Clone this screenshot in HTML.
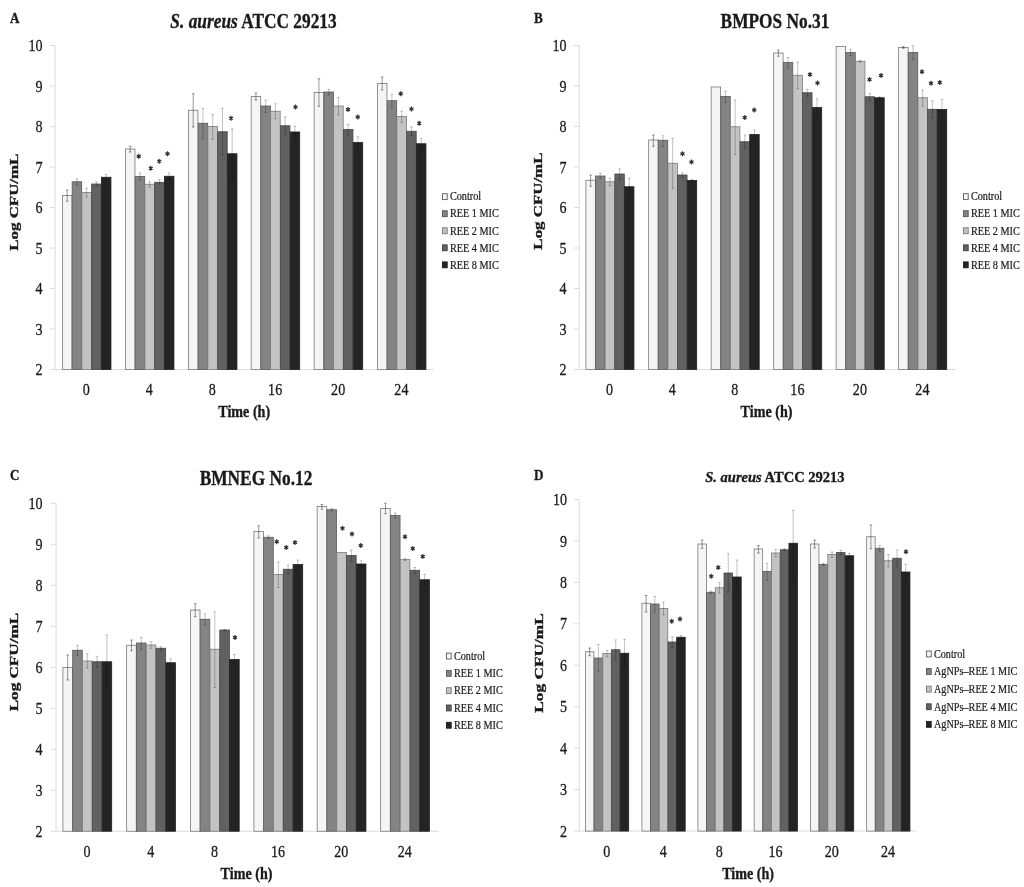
<!DOCTYPE html>
<html>
<head>
<meta charset="utf-8">
<title>Time-kill curves</title>
<style>
html,body{margin:0;padding:0;background:#fff;}
body{width:1024px;height:887px;overflow:hidden;font-family:"Liberation Serif",serif;}
svg{display:block;font-family:"Liberation Serif",serif;filter:blur(0.6px);}
</style>
</head>
<body>
<svg width="1024" height="887" viewBox="0 0 1024 887">
<rect x="0" y="0" width="1024" height="887" fill="#ffffff"/>
<g id="panel-A">
<g stroke="#dcdcdc" stroke-width="1" fill="none">
<path d="M55.2 45.5V369.5H433.5"/>
<path d="M49.8 45.5h5.4M49.8 86h5.4M49.8 126.5h5.4M49.8 167h5.4M49.8 207.5h5.4M49.8 248h5.4M49.8 288.5h5.4M49.8 329h5.4M49.8 369.5h5.4"/>
</g>
<text transform="translate(42.5 51.1) scale(0.8 1)" font-size="17.6" text-anchor="end" fill="#1a1a1a" stroke="#1a1a1a" stroke-width="0.3">10</text>
<text transform="translate(42.5 91.6) scale(0.8 1)" font-size="17.6" text-anchor="end" fill="#1a1a1a" stroke="#1a1a1a" stroke-width="0.3">9</text>
<text transform="translate(42.5 132.1) scale(0.8 1)" font-size="17.6" text-anchor="end" fill="#1a1a1a" stroke="#1a1a1a" stroke-width="0.3">8</text>
<text transform="translate(42.5 172.6) scale(0.8 1)" font-size="17.6" text-anchor="end" fill="#1a1a1a" stroke="#1a1a1a" stroke-width="0.3">7</text>
<text transform="translate(42.5 213.1) scale(0.8 1)" font-size="17.6" text-anchor="end" fill="#1a1a1a" stroke="#1a1a1a" stroke-width="0.3">6</text>
<text transform="translate(42.5 253.6) scale(0.8 1)" font-size="17.6" text-anchor="end" fill="#1a1a1a" stroke="#1a1a1a" stroke-width="0.3">5</text>
<text transform="translate(42.5 294.1) scale(0.8 1)" font-size="17.6" text-anchor="end" fill="#1a1a1a" stroke="#1a1a1a" stroke-width="0.3">4</text>
<text transform="translate(42.5 334.6) scale(0.8 1)" font-size="17.6" text-anchor="end" fill="#1a1a1a" stroke="#1a1a1a" stroke-width="0.3">3</text>
<text transform="translate(42.5 375.1) scale(0.8 1)" font-size="17.6" text-anchor="end" fill="#1a1a1a" stroke="#1a1a1a" stroke-width="0.3">2</text>
<rect x="62.4" y="195.5" width="9.55" height="174" fill="#f5f5f5" stroke="#7a7a7a" stroke-width="0.8"/>
<rect x="72.15" y="181.75" width="9.55" height="187.75" fill="#848484" stroke="#5a5a5a" stroke-width="0.8"/>
<rect x="81.9" y="192.5" width="9.55" height="177" fill="#c3c3c3" stroke="#7c7c7c" stroke-width="0.8"/>
<rect x="91.65" y="184" width="9.55" height="185.5" fill="#616161" stroke="#484848" stroke-width="0.8"/>
<rect x="101.4" y="177.25" width="9.55" height="192.25" fill="#242424" stroke="#202020" stroke-width="0.8"/>
<rect x="125.4" y="149" width="9.55" height="220.5" fill="#f5f5f5" stroke="#7a7a7a" stroke-width="0.8"/>
<rect x="135.15" y="176.5" width="9.55" height="193" fill="#848484" stroke="#5a5a5a" stroke-width="0.8"/>
<rect x="144.9" y="184.25" width="9.55" height="185.25" fill="#c3c3c3" stroke="#7c7c7c" stroke-width="0.8"/>
<rect x="154.65" y="182.3" width="9.55" height="187.2" fill="#616161" stroke="#484848" stroke-width="0.8"/>
<rect x="164.4" y="176.25" width="9.55" height="193.25" fill="#242424" stroke="#202020" stroke-width="0.8"/>
<rect x="188.4" y="110.25" width="9.55" height="259.25" fill="#f5f5f5" stroke="#7a7a7a" stroke-width="0.8"/>
<rect x="198.15" y="123.25" width="9.55" height="246.25" fill="#848484" stroke="#5a5a5a" stroke-width="0.8"/>
<rect x="207.9" y="126.5" width="9.55" height="243" fill="#c3c3c3" stroke="#7c7c7c" stroke-width="0.8"/>
<rect x="217.65" y="131.75" width="9.55" height="237.75" fill="#616161" stroke="#484848" stroke-width="0.8"/>
<rect x="227.4" y="153.75" width="9.55" height="215.75" fill="#242424" stroke="#202020" stroke-width="0.8"/>
<rect x="251.15" y="96.5" width="9.55" height="273" fill="#f5f5f5" stroke="#7a7a7a" stroke-width="0.8"/>
<rect x="260.9" y="106" width="9.55" height="263.5" fill="#848484" stroke="#5a5a5a" stroke-width="0.8"/>
<rect x="270.65" y="111.25" width="9.55" height="258.25" fill="#c3c3c3" stroke="#7c7c7c" stroke-width="0.8"/>
<rect x="280.4" y="125.75" width="9.55" height="243.75" fill="#616161" stroke="#484848" stroke-width="0.8"/>
<rect x="290.15" y="132" width="9.55" height="237.5" fill="#242424" stroke="#202020" stroke-width="0.8"/>
<rect x="314.15" y="92.5" width="9.55" height="277" fill="#f5f5f5" stroke="#7a7a7a" stroke-width="0.8"/>
<rect x="323.9" y="92" width="9.55" height="277.5" fill="#848484" stroke="#5a5a5a" stroke-width="0.8"/>
<rect x="333.65" y="106" width="9.55" height="263.5" fill="#c3c3c3" stroke="#7c7c7c" stroke-width="0.8"/>
<rect x="343.4" y="129.5" width="9.55" height="240" fill="#616161" stroke="#484848" stroke-width="0.8"/>
<rect x="353.15" y="142.5" width="9.55" height="227" fill="#242424" stroke="#202020" stroke-width="0.8"/>
<rect x="377.4" y="83.5" width="9.55" height="286" fill="#f5f5f5" stroke="#7a7a7a" stroke-width="0.8"/>
<rect x="387.15" y="100.75" width="9.55" height="268.75" fill="#848484" stroke="#5a5a5a" stroke-width="0.8"/>
<rect x="396.9" y="116.5" width="9.55" height="253" fill="#c3c3c3" stroke="#7c7c7c" stroke-width="0.8"/>
<rect x="406.65" y="131.25" width="9.55" height="238.25" fill="#616161" stroke="#484848" stroke-width="0.8"/>
<rect x="416.4" y="143.75" width="9.55" height="225.75" fill="#242424" stroke="#202020" stroke-width="0.8"/>
<path d="M67.17 190V201.25M65.88 190h2.6M65.88 201.25h2.6M130.18 146.25V152M128.88 146.25h2.6M128.88 152h2.6M193.18 93.75V127M191.88 93.75h2.6M191.88 127h2.6M255.93 93V100M254.62 93h2.6M254.62 100h2.6M318.93 78.75V106.25M317.62 78.75h2.6M317.62 106.25h2.6M382.18 77V90M380.88 77h2.6M380.88 90h2.6" stroke="#000" stroke-opacity="0.5" stroke-width="0.8" fill="none"/>
<path d="M76.92 178.75V185M75.62 178.75h2.6M75.62 185h2.6M86.67 188.25V197M85.38 188.25h2.6M85.38 197h2.6M96.42 181.75V186.25M95.12 181.75h2.6M95.12 186.25h2.6M106.17 174.5V179.5M104.88 174.5h2.6M104.88 179.5h2.6M139.93 173V180M138.62 173h2.6M138.62 180h2.6M149.68 181.75V187M148.38 181.75h2.6M148.38 187h2.6M159.43 179.5V183.75M158.12 179.5h2.6M158.12 183.75h2.6M169.18 173V179.5M167.88 173h2.6M167.88 179.5h2.6M202.93 108.25V138.75M201.62 108.25h2.6M201.62 138.75h2.6M212.68 114.5V139.25M211.38 114.5h2.6M211.38 139.25h2.6M222.43 108.25V155M221.12 108.25h2.6M221.12 155h2.6M232.18 128.75V179.25M230.88 128.75h2.6M230.88 179.25h2.6M265.68 100V112.5M264.38 100h2.6M264.38 112.5h2.6M275.43 103.75V118.75M274.12 103.75h2.6M274.12 118.75h2.6M285.18 116.75V135M283.88 116.75h2.6M283.88 135h2.6M294.93 126.25V137.5M293.62 126.25h2.6M293.62 137.5h2.6M328.68 89.25V95M327.38 89.25h2.6M327.38 95h2.6M338.43 97.5V115M337.12 97.5h2.6M337.12 115h2.6M348.18 124.5V135M346.88 124.5h2.6M346.88 135h2.6M357.93 136.75V148M356.62 136.75h2.6M356.62 148h2.6M391.93 94.25V108M390.62 94.25h2.6M390.62 108h2.6M401.68 111.25V122.5M400.38 111.25h2.6M400.38 122.5h2.6M411.43 127V135.5M410.12 127h2.6M410.12 135.5h2.6M421.18 138.25V149.5M419.88 138.25h2.6M419.88 149.5h2.6" stroke="#000" stroke-opacity="0.3" stroke-width="0.8" fill="none"/>
<path d="M138.75 153.65v5.2M136.7 154.95l4.1 2.6M136.7 157.55l4.1 -2.6M150.75 165.65v5.2M148.7 166.95l4.1 2.6M148.7 169.55l4.1 -2.6M159.25 158.65v5.2M157.2 159.95l4.1 2.6M157.2 162.55l4.1 -2.6M167.5 151.15v5.2M165.45 152.45l4.1 2.6M165.45 155.05l4.1 -2.6M231 115.65v5.2M228.95 116.95l4.1 2.6M228.95 119.55l4.1 -2.6M295.5 104.4v5.2M293.45 105.7l4.1 2.6M293.45 108.3l4.1 -2.6M348 106.9v5.2M345.95 108.2l4.1 2.6M345.95 110.8l4.1 -2.6M357.75 114.4v5.2M355.7 115.7l4.1 2.6M355.7 118.3l4.1 -2.6M400.75 91.15v5.2M398.7 92.45l4.1 2.6M398.7 95.05l4.1 -2.6M411.5 106.4v5.2M409.45 107.7l4.1 2.6M409.45 110.3l4.1 -2.6M419.25 120.65v5.2M417.2 121.95l4.1 2.6M417.2 124.55l4.1 -2.6" stroke="#333" stroke-width="1.2" fill="none"/>
<circle cx="138.75" cy="156.25" r="1.15" fill="#333"/>
<circle cx="150.75" cy="168.25" r="1.15" fill="#333"/>
<circle cx="159.25" cy="161.25" r="1.15" fill="#333"/>
<circle cx="167.5" cy="153.75" r="1.15" fill="#333"/>
<circle cx="231" cy="118.25" r="1.15" fill="#333"/>
<circle cx="295.5" cy="107" r="1.15" fill="#333"/>
<circle cx="348" cy="109.5" r="1.15" fill="#333"/>
<circle cx="357.75" cy="117" r="1.15" fill="#333"/>
<circle cx="400.75" cy="93.75" r="1.15" fill="#333"/>
<circle cx="411.5" cy="109" r="1.15" fill="#333"/>
<circle cx="419.25" cy="123.25" r="1.15" fill="#333"/>
<text transform="translate(86.38 394.9) scale(0.8 1)" font-size="17.6" text-anchor="middle" fill="#1a1a1a" stroke="#1a1a1a" stroke-width="0.3">0</text>
<text transform="translate(149.38 394.9) scale(0.8 1)" font-size="17.6" text-anchor="middle" fill="#1a1a1a" stroke="#1a1a1a" stroke-width="0.3">4</text>
<text transform="translate(212.38 394.9) scale(0.8 1)" font-size="17.6" text-anchor="middle" fill="#1a1a1a" stroke="#1a1a1a" stroke-width="0.3">8</text>
<text transform="translate(275.12 394.9) scale(0.8 1)" font-size="17.6" text-anchor="middle" fill="#1a1a1a" stroke="#1a1a1a" stroke-width="0.3">16</text>
<text transform="translate(338.12 394.9) scale(0.8 1)" font-size="17.6" text-anchor="middle" fill="#1a1a1a" stroke="#1a1a1a" stroke-width="0.3">20</text>
<text transform="translate(401.38 394.9) scale(0.8 1)" font-size="17.6" text-anchor="middle" fill="#1a1a1a" stroke="#1a1a1a" stroke-width="0.3">24</text>
<text transform="translate(244.2 417.2) scale(0.83 1)" font-size="17" text-anchor="middle" font-weight="bold" stroke="#1a1a1a" stroke-width="0.35" fill="#1a1a1a">Time (h)</text>
<text transform="translate(18 202.2) rotate(-90) scale(1.31 1)" font-size="12.9" text-anchor="middle" font-weight="bold" stroke="#1a1a1a" stroke-width="0.35" fill="#1a1a1a">Log CFU/mL</text>
<text transform="translate(10 23.2) scale(0.84 1)" font-size="15.6" font-weight="bold" stroke="#1a1a1a" stroke-width="0.35" fill="#1a1a1a">A</text>
<text transform="translate(253.5 28) scale(0.81 1)" font-size="21.4" text-anchor="middle" font-weight="bold" stroke="#1a1a1a" stroke-width="0.35" fill="#1a1a1a" xml:space="preserve"><tspan font-style="italic">S. aureus</tspan> ATCC 29213</text>
<rect x="442.5" y="193.7" width="4.7" height="5.9" fill="#f5f5f5" stroke="#5a5a5a" stroke-width="0.9"/>
<text transform="translate(449.9 200.4) scale(0.89 1)" font-size="11.5" fill="#1a1a1a" stroke="#1a1a1a" stroke-width="0.2">Control</text>
<rect x="442.5" y="210.75" width="4.7" height="5.9" fill="#848484" stroke="#555" stroke-width="0.9"/>
<text transform="translate(449.9 217.45) scale(0.89 1)" font-size="11.5" fill="#1a1a1a" stroke="#1a1a1a" stroke-width="0.2">REE 1 MIC</text>
<rect x="442.5" y="227.8" width="4.7" height="5.9" fill="#c3c3c3" stroke="#777" stroke-width="0.9"/>
<text transform="translate(449.9 234.5) scale(0.89 1)" font-size="11.5" fill="#1a1a1a" stroke="#1a1a1a" stroke-width="0.2">REE 2 MIC</text>
<rect x="442.5" y="244.85" width="4.7" height="5.9" fill="#616161" stroke="#444" stroke-width="0.9"/>
<text transform="translate(449.9 251.55) scale(0.89 1)" font-size="11.5" fill="#1a1a1a" stroke="#1a1a1a" stroke-width="0.2">REE 4 MIC</text>
<rect x="442.5" y="261.9" width="4.7" height="5.9" fill="#242424" stroke="#1c1c1c" stroke-width="0.9"/>
<text transform="translate(449.9 268.6) scale(0.89 1)" font-size="11.5" fill="#1a1a1a" stroke="#1a1a1a" stroke-width="0.2">REE 8 MIC</text>
</g>
<g id="panel-B">
<g stroke="#dcdcdc" stroke-width="1" fill="none">
<path d="M579.2 45.5V369.5H955.5"/>
<path d="M573.8 45.5h5.4M573.8 86h5.4M573.8 126.5h5.4M573.8 167h5.4M573.8 207.5h5.4M573.8 248h5.4M573.8 288.5h5.4M573.8 329h5.4M573.8 369.5h5.4"/>
</g>
<text transform="translate(566.6 51.1) scale(0.8 1)" font-size="17.6" text-anchor="end" fill="#1a1a1a" stroke="#1a1a1a" stroke-width="0.3">10</text>
<text transform="translate(566.6 91.6) scale(0.8 1)" font-size="17.6" text-anchor="end" fill="#1a1a1a" stroke="#1a1a1a" stroke-width="0.3">9</text>
<text transform="translate(566.6 132.1) scale(0.8 1)" font-size="17.6" text-anchor="end" fill="#1a1a1a" stroke="#1a1a1a" stroke-width="0.3">8</text>
<text transform="translate(566.6 172.6) scale(0.8 1)" font-size="17.6" text-anchor="end" fill="#1a1a1a" stroke="#1a1a1a" stroke-width="0.3">7</text>
<text transform="translate(566.6 213.1) scale(0.8 1)" font-size="17.6" text-anchor="end" fill="#1a1a1a" stroke="#1a1a1a" stroke-width="0.3">6</text>
<text transform="translate(566.6 253.6) scale(0.8 1)" font-size="17.6" text-anchor="end" fill="#1a1a1a" stroke="#1a1a1a" stroke-width="0.3">5</text>
<text transform="translate(566.6 294.1) scale(0.8 1)" font-size="17.6" text-anchor="end" fill="#1a1a1a" stroke="#1a1a1a" stroke-width="0.3">4</text>
<text transform="translate(566.6 334.6) scale(0.8 1)" font-size="17.6" text-anchor="end" fill="#1a1a1a" stroke="#1a1a1a" stroke-width="0.3">3</text>
<text transform="translate(566.6 375.1) scale(0.8 1)" font-size="17.6" text-anchor="end" fill="#1a1a1a" stroke="#1a1a1a" stroke-width="0.3">2</text>
<rect x="585.9" y="180.25" width="9.45" height="189.25" fill="#f5f5f5" stroke="#7a7a7a" stroke-width="0.8"/>
<rect x="595.55" y="176" width="9.45" height="193.5" fill="#848484" stroke="#5a5a5a" stroke-width="0.8"/>
<rect x="605.2" y="181.75" width="9.45" height="187.75" fill="#c3c3c3" stroke="#7c7c7c" stroke-width="0.8"/>
<rect x="614.85" y="174" width="9.45" height="195.5" fill="#616161" stroke="#484848" stroke-width="0.8"/>
<rect x="624.5" y="186.75" width="9.45" height="182.75" fill="#242424" stroke="#202020" stroke-width="0.8"/>
<rect x="648.65" y="140" width="9.45" height="229.5" fill="#f5f5f5" stroke="#7a7a7a" stroke-width="0.8"/>
<rect x="658.3" y="140.25" width="9.45" height="229.25" fill="#848484" stroke="#5a5a5a" stroke-width="0.8"/>
<rect x="667.95" y="163.25" width="9.45" height="206.25" fill="#c3c3c3" stroke="#7c7c7c" stroke-width="0.8"/>
<rect x="677.6" y="175" width="9.45" height="194.5" fill="#616161" stroke="#484848" stroke-width="0.8"/>
<rect x="687.25" y="180.5" width="9.45" height="189" fill="#242424" stroke="#202020" stroke-width="0.8"/>
<rect x="711.15" y="87" width="9.45" height="282.5" fill="#f5f5f5" stroke="#7a7a7a" stroke-width="0.8"/>
<rect x="720.8" y="96.5" width="9.45" height="273" fill="#848484" stroke="#5a5a5a" stroke-width="0.8"/>
<rect x="730.45" y="126.75" width="9.45" height="242.75" fill="#c3c3c3" stroke="#7c7c7c" stroke-width="0.8"/>
<rect x="740.1" y="141.75" width="9.45" height="227.75" fill="#616161" stroke="#484848" stroke-width="0.8"/>
<rect x="749.75" y="134.5" width="9.45" height="235" fill="#242424" stroke="#202020" stroke-width="0.8"/>
<rect x="773.65" y="53" width="9.45" height="316.5" fill="#f5f5f5" stroke="#7a7a7a" stroke-width="0.8"/>
<rect x="783.3" y="62.5" width="9.45" height="307" fill="#848484" stroke="#5a5a5a" stroke-width="0.8"/>
<rect x="792.95" y="75.25" width="9.45" height="294.25" fill="#c3c3c3" stroke="#7c7c7c" stroke-width="0.8"/>
<rect x="802.6" y="92.75" width="9.45" height="276.75" fill="#616161" stroke="#484848" stroke-width="0.8"/>
<rect x="812.25" y="107.5" width="9.45" height="262" fill="#242424" stroke="#202020" stroke-width="0.8"/>
<rect x="836.15" y="46.5" width="9.45" height="323" fill="#f5f5f5" stroke="#7a7a7a" stroke-width="0.8"/>
<rect x="845.8" y="52.5" width="9.45" height="317" fill="#848484" stroke="#5a5a5a" stroke-width="0.8"/>
<rect x="855.45" y="61.25" width="9.45" height="308.25" fill="#c3c3c3" stroke="#7c7c7c" stroke-width="0.8"/>
<rect x="865.1" y="96.75" width="9.45" height="272.75" fill="#616161" stroke="#484848" stroke-width="0.8"/>
<rect x="874.75" y="97.75" width="9.45" height="271.75" fill="#242424" stroke="#202020" stroke-width="0.8"/>
<rect x="898.65" y="47.5" width="9.45" height="322" fill="#f5f5f5" stroke="#7a7a7a" stroke-width="0.8"/>
<rect x="908.3" y="52.5" width="9.45" height="317" fill="#848484" stroke="#5a5a5a" stroke-width="0.8"/>
<rect x="917.95" y="97.75" width="9.45" height="271.75" fill="#c3c3c3" stroke="#7c7c7c" stroke-width="0.8"/>
<rect x="927.6" y="109.25" width="9.45" height="260.25" fill="#616161" stroke="#484848" stroke-width="0.8"/>
<rect x="937.25" y="109.5" width="9.45" height="260" fill="#242424" stroke="#202020" stroke-width="0.8"/>
<path d="M590.62 175V186.25M589.33 175h2.6M589.33 186.25h2.6M653.38 135V146.25M652.08 135h2.6M652.08 146.25h2.6M778.38 50V56.25M777.08 50h2.6M777.08 56.25h2.6M903.38 46.75V48.25M902.08 46.75h2.6M902.08 48.25h2.6" stroke="#000" stroke-opacity="0.5" stroke-width="0.8" fill="none"/>
<path d="M600.27 173.25V178.75M598.98 173.25h2.6M598.98 178.75h2.6M609.92 178.25V185.5M608.62 178.25h2.6M608.62 185.5h2.6M619.58 168.75V179.5M618.28 168.75h2.6M618.28 179.5h2.6M629.23 178.25V195M627.93 178.25h2.6M627.93 195h2.6M663.02 135.75V146.25M661.73 135.75h2.6M661.73 146.25h2.6M672.67 138.25V188.75M671.38 138.25h2.6M671.38 188.75h2.6M682.33 172.75V177.5M681.03 172.75h2.6M681.03 177.5h2.6M691.98 179.5V181.5M690.68 179.5h2.6M690.68 181.5h2.6M725.52 91.25V102.5M724.23 91.25h2.6M724.23 102.5h2.6M735.17 100V154.5M733.88 100h2.6M733.88 154.5h2.6M744.83 135V148.75M743.53 135h2.6M743.53 148.75h2.6M754.48 130V139.25M753.18 130h2.6M753.18 139.25h2.6M788.02 57.5V68M786.73 57.5h2.6M786.73 68h2.6M797.67 62V88.75M796.38 62h2.6M796.38 88.75h2.6M807.33 89.25V96.25M806.03 89.25h2.6M806.03 96.25h2.6M816.98 98.75V116.25M815.68 98.75h2.6M815.68 116.25h2.6M850.52 49.25V55.75M849.23 49.25h2.6M849.23 55.75h2.6M860.17 60.25V62.25M858.88 60.25h2.6M858.88 62.25h2.6M869.83 93.25V100.75M868.53 93.25h2.6M868.53 100.75h2.6M879.48 96.75V98.75M878.18 96.75h2.6M878.18 98.75h2.6M913.02 45.75V59.5M911.73 45.75h2.6M911.73 59.5h2.6M922.67 90V106.25M921.38 90h2.6M921.38 106.25h2.6M932.33 100.75V118M931.03 100.75h2.6M931.03 118h2.6M941.98 99.5V119.5M940.68 99.5h2.6M940.68 119.5h2.6" stroke="#000" stroke-opacity="0.3" stroke-width="0.8" fill="none"/>
<path d="M682.5 151.15v5.2M680.45 152.45l4.1 2.6M680.45 155.05l4.1 -2.6M691.5 159.4v5.2M689.45 160.7l4.1 2.6M689.45 163.3l4.1 -2.6M744.75 114.9v5.2M742.7 116.2l4.1 2.6M742.7 118.8l4.1 -2.6M754.25 107.4v5.2M752.2 108.7l4.1 2.6M752.2 111.3l4.1 -2.6M810 71.9v5.2M807.95 73.2l4.1 2.6M807.95 75.8l4.1 -2.6M817.5 80.4v5.2M815.45 81.7l4.1 2.6M815.45 84.3l4.1 -2.6M869.5 76.9v5.2M867.45 78.2l4.1 2.6M867.45 80.8l4.1 -2.6M881 72.9v5.2M878.95 74.2l4.1 2.6M878.95 76.8l4.1 -2.6M922 69.15v5.2M919.95 70.45l4.1 2.6M919.95 73.05l4.1 -2.6M931 80.65v5.2M928.95 81.95l4.1 2.6M928.95 84.55l4.1 -2.6M939.75 79.9v5.2M937.7 81.2l4.1 2.6M937.7 83.8l4.1 -2.6" stroke="#333" stroke-width="1.2" fill="none"/>
<circle cx="682.5" cy="153.75" r="1.15" fill="#333"/>
<circle cx="691.5" cy="162" r="1.15" fill="#333"/>
<circle cx="744.75" cy="117.5" r="1.15" fill="#333"/>
<circle cx="754.25" cy="110" r="1.15" fill="#333"/>
<circle cx="810" cy="74.5" r="1.15" fill="#333"/>
<circle cx="817.5" cy="83" r="1.15" fill="#333"/>
<circle cx="869.5" cy="79.5" r="1.15" fill="#333"/>
<circle cx="881" cy="75.5" r="1.15" fill="#333"/>
<circle cx="922" cy="71.75" r="1.15" fill="#333"/>
<circle cx="931" cy="83.25" r="1.15" fill="#333"/>
<circle cx="939.75" cy="82.5" r="1.15" fill="#333"/>
<text transform="translate(609.62 394.9) scale(0.8 1)" font-size="17.6" text-anchor="middle" fill="#1a1a1a" stroke="#1a1a1a" stroke-width="0.3">0</text>
<text transform="translate(672.38 394.9) scale(0.8 1)" font-size="17.6" text-anchor="middle" fill="#1a1a1a" stroke="#1a1a1a" stroke-width="0.3">4</text>
<text transform="translate(734.88 394.9) scale(0.8 1)" font-size="17.6" text-anchor="middle" fill="#1a1a1a" stroke="#1a1a1a" stroke-width="0.3">8</text>
<text transform="translate(797.38 394.9) scale(0.8 1)" font-size="17.6" text-anchor="middle" fill="#1a1a1a" stroke="#1a1a1a" stroke-width="0.3">16</text>
<text transform="translate(859.88 394.9) scale(0.8 1)" font-size="17.6" text-anchor="middle" fill="#1a1a1a" stroke="#1a1a1a" stroke-width="0.3">20</text>
<text transform="translate(922.38 394.9) scale(0.8 1)" font-size="17.6" text-anchor="middle" fill="#1a1a1a" stroke="#1a1a1a" stroke-width="0.3">24</text>
<text transform="translate(766.5 417) scale(0.83 1)" font-size="17" text-anchor="middle" font-weight="bold" stroke="#1a1a1a" stroke-width="0.35" fill="#1a1a1a">Time (h)</text>
<text transform="translate(541.5 201.1) rotate(-90) scale(1.31 1)" font-size="12.9" text-anchor="middle" font-weight="bold" stroke="#1a1a1a" stroke-width="0.35" fill="#1a1a1a">Log CFU/mL</text>
<text transform="translate(534 22.9) scale(0.84 1)" font-size="15.6" font-weight="bold" stroke="#1a1a1a" stroke-width="0.35" fill="#1a1a1a">B</text>
<text transform="translate(775 28) scale(0.81 1)" font-size="21.4" text-anchor="middle" font-weight="bold" stroke="#1a1a1a" stroke-width="0.35" fill="#1a1a1a" xml:space="preserve">BMPOS No.31</text>
<rect x="963.5" y="193.7" width="4.7" height="5.9" fill="#f5f5f5" stroke="#5a5a5a" stroke-width="0.9"/>
<text transform="translate(970.9 200.4) scale(0.89 1)" font-size="11.5" fill="#1a1a1a" stroke="#1a1a1a" stroke-width="0.2">Control</text>
<rect x="963.5" y="210.75" width="4.7" height="5.9" fill="#848484" stroke="#555" stroke-width="0.9"/>
<text transform="translate(970.9 217.45) scale(0.89 1)" font-size="11.5" fill="#1a1a1a" stroke="#1a1a1a" stroke-width="0.2">REE 1 MIC</text>
<rect x="963.5" y="227.8" width="4.7" height="5.9" fill="#c3c3c3" stroke="#777" stroke-width="0.9"/>
<text transform="translate(970.9 234.5) scale(0.89 1)" font-size="11.5" fill="#1a1a1a" stroke="#1a1a1a" stroke-width="0.2">REE 2 MIC</text>
<rect x="963.5" y="244.85" width="4.7" height="5.9" fill="#616161" stroke="#444" stroke-width="0.9"/>
<text transform="translate(970.9 251.55) scale(0.89 1)" font-size="11.5" fill="#1a1a1a" stroke="#1a1a1a" stroke-width="0.2">REE 4 MIC</text>
<rect x="963.5" y="261.9" width="4.7" height="5.9" fill="#242424" stroke="#1c1c1c" stroke-width="0.9"/>
<text transform="translate(970.9 268.6) scale(0.89 1)" font-size="11.5" fill="#1a1a1a" stroke="#1a1a1a" stroke-width="0.2">REE 8 MIC</text>
</g>
<g id="panel-C">
<g stroke="#dcdcdc" stroke-width="1" fill="none">
<path d="M56.1 503.25V831.25H438.75"/>
<path d="M50.7 503.25h5.4M50.7 544.25h5.4M50.7 585.25h5.4M50.7 626.25h5.4M50.7 667.25h5.4M50.7 708.25h5.4M50.7 749.25h5.4M50.7 790.25h5.4M50.7 831.25h5.4"/>
</g>
<text transform="translate(42.65 508.85) scale(0.8 1)" font-size="17.6" text-anchor="end" fill="#1a1a1a" stroke="#1a1a1a" stroke-width="0.3">10</text>
<text transform="translate(42.65 549.85) scale(0.8 1)" font-size="17.6" text-anchor="end" fill="#1a1a1a" stroke="#1a1a1a" stroke-width="0.3">9</text>
<text transform="translate(42.65 590.85) scale(0.8 1)" font-size="17.6" text-anchor="end" fill="#1a1a1a" stroke="#1a1a1a" stroke-width="0.3">8</text>
<text transform="translate(42.65 631.85) scale(0.8 1)" font-size="17.6" text-anchor="end" fill="#1a1a1a" stroke="#1a1a1a" stroke-width="0.3">7</text>
<text transform="translate(42.65 672.85) scale(0.8 1)" font-size="17.6" text-anchor="end" fill="#1a1a1a" stroke="#1a1a1a" stroke-width="0.3">6</text>
<text transform="translate(42.65 713.85) scale(0.8 1)" font-size="17.6" text-anchor="end" fill="#1a1a1a" stroke="#1a1a1a" stroke-width="0.3">5</text>
<text transform="translate(42.65 754.85) scale(0.8 1)" font-size="17.6" text-anchor="end" fill="#1a1a1a" stroke="#1a1a1a" stroke-width="0.3">4</text>
<text transform="translate(42.65 795.85) scale(0.8 1)" font-size="17.6" text-anchor="end" fill="#1a1a1a" stroke="#1a1a1a" stroke-width="0.3">3</text>
<text transform="translate(42.65 836.85) scale(0.8 1)" font-size="17.6" text-anchor="end" fill="#1a1a1a" stroke="#1a1a1a" stroke-width="0.3">2</text>
<rect x="62.9" y="667.5" width="9.6" height="163.75" fill="#f5f5f5" stroke="#7a7a7a" stroke-width="0.8"/>
<rect x="72.7" y="650.25" width="9.6" height="181" fill="#848484" stroke="#5a5a5a" stroke-width="0.8"/>
<rect x="82.5" y="661" width="9.6" height="170.25" fill="#c3c3c3" stroke="#7c7c7c" stroke-width="0.8"/>
<rect x="92.3" y="661.75" width="9.6" height="169.5" fill="#616161" stroke="#484848" stroke-width="0.8"/>
<rect x="102.1" y="661.75" width="9.6" height="169.5" fill="#242424" stroke="#202020" stroke-width="0.8"/>
<rect x="126.65" y="645.25" width="9.6" height="186" fill="#f5f5f5" stroke="#7a7a7a" stroke-width="0.8"/>
<rect x="136.45" y="643" width="9.6" height="188.25" fill="#848484" stroke="#5a5a5a" stroke-width="0.8"/>
<rect x="146.25" y="645" width="9.6" height="186.25" fill="#c3c3c3" stroke="#7c7c7c" stroke-width="0.8"/>
<rect x="156.05" y="648.25" width="9.6" height="183" fill="#616161" stroke="#484848" stroke-width="0.8"/>
<rect x="165.85" y="662.75" width="9.6" height="168.5" fill="#242424" stroke="#202020" stroke-width="0.8"/>
<rect x="190.4" y="610" width="9.6" height="221.25" fill="#f5f5f5" stroke="#7a7a7a" stroke-width="0.8"/>
<rect x="200.2" y="619.25" width="9.6" height="212" fill="#848484" stroke="#5a5a5a" stroke-width="0.8"/>
<rect x="210" y="649.25" width="9.6" height="182" fill="#c3c3c3" stroke="#7c7c7c" stroke-width="0.8"/>
<rect x="219.8" y="630" width="9.6" height="201.25" fill="#616161" stroke="#484848" stroke-width="0.8"/>
<rect x="229.6" y="659.5" width="9.6" height="171.75" fill="#242424" stroke="#202020" stroke-width="0.8"/>
<rect x="253.9" y="531.5" width="9.6" height="299.75" fill="#f5f5f5" stroke="#7a7a7a" stroke-width="0.8"/>
<rect x="263.7" y="537.25" width="9.6" height="294" fill="#848484" stroke="#5a5a5a" stroke-width="0.8"/>
<rect x="273.5" y="574.5" width="9.6" height="256.75" fill="#c3c3c3" stroke="#7c7c7c" stroke-width="0.8"/>
<rect x="283.3" y="569.25" width="9.6" height="262" fill="#616161" stroke="#484848" stroke-width="0.8"/>
<rect x="293.1" y="564.5" width="9.6" height="266.75" fill="#242424" stroke="#202020" stroke-width="0.8"/>
<rect x="317.15" y="506.5" width="9.6" height="324.75" fill="#f5f5f5" stroke="#7a7a7a" stroke-width="0.8"/>
<rect x="326.95" y="509.75" width="9.6" height="321.5" fill="#848484" stroke="#5a5a5a" stroke-width="0.8"/>
<rect x="336.75" y="552.5" width="9.6" height="278.75" fill="#c3c3c3" stroke="#7c7c7c" stroke-width="0.8"/>
<rect x="346.55" y="555.5" width="9.6" height="275.75" fill="#616161" stroke="#484848" stroke-width="0.8"/>
<rect x="356.35" y="564" width="9.6" height="267.25" fill="#242424" stroke="#202020" stroke-width="0.8"/>
<rect x="380.65" y="508.5" width="9.6" height="322.75" fill="#f5f5f5" stroke="#7a7a7a" stroke-width="0.8"/>
<rect x="390.45" y="515.5" width="9.6" height="315.75" fill="#848484" stroke="#5a5a5a" stroke-width="0.8"/>
<rect x="400.25" y="559.5" width="9.6" height="271.75" fill="#c3c3c3" stroke="#7c7c7c" stroke-width="0.8"/>
<rect x="410.05" y="570.25" width="9.6" height="261" fill="#616161" stroke="#484848" stroke-width="0.8"/>
<rect x="419.85" y="579.75" width="9.6" height="251.5" fill="#242424" stroke="#202020" stroke-width="0.8"/>
<path d="M67.7 655V680M66.4 655h2.6M66.4 680h2.6M131.45 640V650.75M130.15 640h2.6M130.15 650.75h2.6M195.2 603.75V616.75M193.9 603.75h2.6M193.9 616.75h2.6M258.7 525.75V538M257.4 525.75h2.6M257.4 538h2.6M321.95 504.5V509.25M320.65 504.5h2.6M320.65 509.25h2.6M385.45 503.25V513.75M384.15 503.25h2.6M384.15 513.75h2.6" stroke="#000" stroke-opacity="0.5" stroke-width="0.8" fill="none"/>
<path d="M77.5 645.5V655.5M76.2 645.5h2.6M76.2 655.5h2.6M87.3 653.75V668M86 653.75h2.6M86 668h2.6M97.1 656.25V667.5M95.8 656.25h2.6M95.8 667.5h2.6M106.9 635V688.75M105.6 635h2.6M105.6 688.75h2.6M141.25 637.5V649.25M139.95 637.5h2.6M139.95 649.25h2.6M151.05 641.75V648.25M149.75 641.75h2.6M149.75 648.25h2.6M160.85 646.75V650M159.55 646.75h2.6M159.55 650h2.6M170.65 658.75V666.75M169.35 658.75h2.6M169.35 666.75h2.6M205 613.75V625M203.7 613.75h2.6M203.7 625h2.6M214.8 611.75V687.5M213.5 611.75h2.6M213.5 687.5h2.6M224.6 629.25V630.75M223.3 629.25h2.6M223.3 630.75h2.6M234.4 654.5V664.5M233.1 654.5h2.6M233.1 664.5h2.6M268.5 535.75V538.75M267.2 535.75h2.6M267.2 538.75h2.6M278.3 562V587.5M277 562h2.6M277 587.5h2.6M288.1 565V573.75M286.8 565h2.6M286.8 573.75h2.6M297.9 560V568.75M296.6 560h2.6M296.6 568.75h2.6M331.75 508.5V511M330.45 508.5h2.6M330.45 511h2.6M351.35 550V561.25M350.05 550h2.6M350.05 561.25h2.6M361.15 560.75V567M359.85 560.75h2.6M359.85 567h2.6M395.25 513V518.25M393.95 513h2.6M393.95 518.25h2.6M405.05 558.5V560.5M403.75 558.5h2.6M403.75 560.5h2.6M414.85 567.5V573.25M413.55 567.5h2.6M413.55 573.25h2.6M424.65 574.25V585.5M423.35 574.25h2.6M423.35 585.5h2.6" stroke="#000" stroke-opacity="0.3" stroke-width="0.8" fill="none"/>
<path d="M235 634.9v5.2M232.95 636.2l4.1 2.6M232.95 638.8l4.1 -2.6M276.75 539.15v5.2M274.7 540.45l4.1 2.6M274.7 543.05l4.1 -2.6M286.25 544.9v5.2M284.2 546.2l4.1 2.6M284.2 548.8l4.1 -2.6M295 539.9v5.2M292.95 541.2l4.1 2.6M292.95 543.8l4.1 -2.6M342.5 525.65v5.2M340.45 526.95l4.1 2.6M340.45 529.55l4.1 -2.6M352 531.4v5.2M349.95 532.7l4.1 2.6M349.95 535.3l4.1 -2.6M360.75 542.9v5.2M358.7 544.2l4.1 2.6M358.7 546.8l4.1 -2.6M405 534.15v5.2M402.95 535.45l4.1 2.6M402.95 538.05l4.1 -2.6M412.75 545.9v5.2M410.7 547.2l4.1 2.6M410.7 549.8l4.1 -2.6M422.75 553.9v5.2M420.7 555.2l4.1 2.6M420.7 557.8l4.1 -2.6" stroke="#333" stroke-width="1.2" fill="none"/>
<circle cx="235" cy="637.5" r="1.15" fill="#333"/>
<circle cx="276.75" cy="541.75" r="1.15" fill="#333"/>
<circle cx="286.25" cy="547.5" r="1.15" fill="#333"/>
<circle cx="295" cy="542.5" r="1.15" fill="#333"/>
<circle cx="342.5" cy="528.25" r="1.15" fill="#333"/>
<circle cx="352" cy="534" r="1.15" fill="#333"/>
<circle cx="360.75" cy="545.5" r="1.15" fill="#333"/>
<circle cx="405" cy="536.75" r="1.15" fill="#333"/>
<circle cx="412.75" cy="548.5" r="1.15" fill="#333"/>
<circle cx="422.75" cy="556.5" r="1.15" fill="#333"/>
<text transform="translate(87 856.8) scale(0.8 1)" font-size="17.6" text-anchor="middle" fill="#1a1a1a" stroke="#1a1a1a" stroke-width="0.3">0</text>
<text transform="translate(150.75 856.8) scale(0.8 1)" font-size="17.6" text-anchor="middle" fill="#1a1a1a" stroke="#1a1a1a" stroke-width="0.3">4</text>
<text transform="translate(214.5 856.8) scale(0.8 1)" font-size="17.6" text-anchor="middle" fill="#1a1a1a" stroke="#1a1a1a" stroke-width="0.3">8</text>
<text transform="translate(278 856.8) scale(0.8 1)" font-size="17.6" text-anchor="middle" fill="#1a1a1a" stroke="#1a1a1a" stroke-width="0.3">16</text>
<text transform="translate(341.25 856.8) scale(0.8 1)" font-size="17.6" text-anchor="middle" fill="#1a1a1a" stroke="#1a1a1a" stroke-width="0.3">20</text>
<text transform="translate(404.75 856.8) scale(0.8 1)" font-size="17.6" text-anchor="middle" fill="#1a1a1a" stroke="#1a1a1a" stroke-width="0.3">24</text>
<text transform="translate(246.5 879.3) scale(0.83 1)" font-size="17" text-anchor="middle" font-weight="bold" stroke="#1a1a1a" stroke-width="0.35" fill="#1a1a1a">Time (h)</text>
<text transform="translate(18.3 662.1) rotate(-90) scale(1.33 1)" font-size="12.9" text-anchor="middle" font-weight="bold" stroke="#1a1a1a" stroke-width="0.35" fill="#1a1a1a">Log CFU/mL</text>
<text transform="translate(10 480.2) scale(0.84 1)" font-size="15.6" font-weight="bold" stroke="#1a1a1a" stroke-width="0.35" fill="#1a1a1a">C</text>
<text transform="translate(256 485) scale(0.81 1)" font-size="21.4" text-anchor="middle" font-weight="bold" stroke="#1a1a1a" stroke-width="0.35" fill="#1a1a1a" xml:space="preserve">BMNEG No.12</text>
<rect x="446.5" y="653.1" width="4.7" height="5.9" fill="#f5f5f5" stroke="#5a5a5a" stroke-width="0.9"/>
<text transform="translate(453.9 659.8) scale(0.89 1)" font-size="11.5" fill="#1a1a1a" stroke="#1a1a1a" stroke-width="0.2">Control</text>
<rect x="446.5" y="670.4" width="4.7" height="5.9" fill="#848484" stroke="#555" stroke-width="0.9"/>
<text transform="translate(453.9 677.1) scale(0.89 1)" font-size="11.5" fill="#1a1a1a" stroke="#1a1a1a" stroke-width="0.2">REE 1 MIC</text>
<rect x="446.5" y="687.7" width="4.7" height="5.9" fill="#c3c3c3" stroke="#777" stroke-width="0.9"/>
<text transform="translate(453.9 694.4) scale(0.89 1)" font-size="11.5" fill="#1a1a1a" stroke="#1a1a1a" stroke-width="0.2">REE 2 MIC</text>
<rect x="446.5" y="705" width="4.7" height="5.9" fill="#616161" stroke="#444" stroke-width="0.9"/>
<text transform="translate(453.9 711.7) scale(0.89 1)" font-size="11.5" fill="#1a1a1a" stroke="#1a1a1a" stroke-width="0.2">REE 4 MIC</text>
<rect x="446.5" y="722.3" width="4.7" height="5.9" fill="#242424" stroke="#1c1c1c" stroke-width="0.9"/>
<text transform="translate(453.9 729) scale(0.89 1)" font-size="11.5" fill="#1a1a1a" stroke="#1a1a1a" stroke-width="0.2">REE 8 MIC</text>
</g>
<g id="panel-D">
<g stroke="#dcdcdc" stroke-width="1" fill="none">
<path d="M579.25 499.5V831.1H916.75"/>
<path d="M573.85 499.5h5.4M573.85 540.95h5.4M573.85 582.4h5.4M573.85 623.85h5.4M573.85 665.3h5.4M573.85 706.75h5.4M573.85 748.2h5.4M573.85 789.65h5.4M573.85 831.1h5.4"/>
</g>
<text transform="translate(566.95 505.1) scale(0.8 1)" font-size="17.6" text-anchor="end" fill="#1a1a1a" stroke="#1a1a1a" stroke-width="0.3">10</text>
<text transform="translate(566.95 546.55) scale(0.8 1)" font-size="17.6" text-anchor="end" fill="#1a1a1a" stroke="#1a1a1a" stroke-width="0.3">9</text>
<text transform="translate(566.95 588) scale(0.8 1)" font-size="17.6" text-anchor="end" fill="#1a1a1a" stroke="#1a1a1a" stroke-width="0.3">8</text>
<text transform="translate(566.95 629.45) scale(0.8 1)" font-size="17.6" text-anchor="end" fill="#1a1a1a" stroke="#1a1a1a" stroke-width="0.3">7</text>
<text transform="translate(566.95 670.9) scale(0.8 1)" font-size="17.6" text-anchor="end" fill="#1a1a1a" stroke="#1a1a1a" stroke-width="0.3">6</text>
<text transform="translate(566.95 712.35) scale(0.8 1)" font-size="17.6" text-anchor="end" fill="#1a1a1a" stroke="#1a1a1a" stroke-width="0.3">5</text>
<text transform="translate(566.95 753.8) scale(0.8 1)" font-size="17.6" text-anchor="end" fill="#1a1a1a" stroke="#1a1a1a" stroke-width="0.3">4</text>
<text transform="translate(566.95 795.25) scale(0.8 1)" font-size="17.6" text-anchor="end" fill="#1a1a1a" stroke="#1a1a1a" stroke-width="0.3">3</text>
<text transform="translate(566.95 836.7) scale(0.8 1)" font-size="17.6" text-anchor="end" fill="#1a1a1a" stroke="#1a1a1a" stroke-width="0.3">2</text>
<rect x="585.4" y="651.75" width="8.5" height="179.35" fill="#f5f5f5" stroke="#7a7a7a" stroke-width="0.8"/>
<rect x="594.1" y="658" width="8.5" height="173.1" fill="#848484" stroke="#5a5a5a" stroke-width="0.8"/>
<rect x="602.8" y="653.5" width="8.5" height="177.6" fill="#c3c3c3" stroke="#7c7c7c" stroke-width="0.8"/>
<rect x="611.5" y="649.75" width="8.5" height="181.35" fill="#616161" stroke="#484848" stroke-width="0.8"/>
<rect x="620.2" y="653.25" width="8.5" height="177.85" fill="#242424" stroke="#202020" stroke-width="0.8"/>
<rect x="641.9" y="603.25" width="8.5" height="227.85" fill="#f5f5f5" stroke="#7a7a7a" stroke-width="0.8"/>
<rect x="650.6" y="604" width="8.5" height="227.1" fill="#848484" stroke="#5a5a5a" stroke-width="0.8"/>
<rect x="659.3" y="608.5" width="8.5" height="222.6" fill="#c3c3c3" stroke="#7c7c7c" stroke-width="0.8"/>
<rect x="668" y="642" width="8.5" height="189.1" fill="#616161" stroke="#484848" stroke-width="0.8"/>
<rect x="676.7" y="637.25" width="8.5" height="193.85" fill="#242424" stroke="#202020" stroke-width="0.8"/>
<rect x="697.9" y="544" width="8.5" height="287.1" fill="#f5f5f5" stroke="#7a7a7a" stroke-width="0.8"/>
<rect x="706.6" y="592.25" width="8.5" height="238.85" fill="#848484" stroke="#5a5a5a" stroke-width="0.8"/>
<rect x="715.3" y="587.75" width="8.5" height="243.35" fill="#c3c3c3" stroke="#7c7c7c" stroke-width="0.8"/>
<rect x="724" y="573" width="8.5" height="258.1" fill="#616161" stroke="#484848" stroke-width="0.8"/>
<rect x="732.7" y="577" width="8.5" height="254.1" fill="#242424" stroke="#202020" stroke-width="0.8"/>
<rect x="754.15" y="549" width="8.5" height="282.1" fill="#f5f5f5" stroke="#7a7a7a" stroke-width="0.8"/>
<rect x="762.85" y="571.5" width="8.5" height="259.6" fill="#848484" stroke="#5a5a5a" stroke-width="0.8"/>
<rect x="771.55" y="553" width="8.5" height="278.1" fill="#c3c3c3" stroke="#7c7c7c" stroke-width="0.8"/>
<rect x="780.25" y="549.75" width="8.5" height="281.35" fill="#616161" stroke="#484848" stroke-width="0.8"/>
<rect x="788.95" y="543.25" width="8.5" height="287.85" fill="#242424" stroke="#202020" stroke-width="0.8"/>
<rect x="810.4" y="544" width="8.5" height="287.1" fill="#f5f5f5" stroke="#7a7a7a" stroke-width="0.8"/>
<rect x="819.1" y="564.5" width="8.5" height="266.6" fill="#848484" stroke="#5a5a5a" stroke-width="0.8"/>
<rect x="827.8" y="554.5" width="8.5" height="276.6" fill="#c3c3c3" stroke="#7c7c7c" stroke-width="0.8"/>
<rect x="836.5" y="552.5" width="8.5" height="278.6" fill="#616161" stroke="#484848" stroke-width="0.8"/>
<rect x="845.2" y="555.75" width="8.5" height="275.35" fill="#242424" stroke="#202020" stroke-width="0.8"/>
<rect x="866.65" y="536.75" width="8.5" height="294.35" fill="#f5f5f5" stroke="#7a7a7a" stroke-width="0.8"/>
<rect x="875.35" y="548.25" width="8.5" height="282.85" fill="#848484" stroke="#5a5a5a" stroke-width="0.8"/>
<rect x="884.05" y="560.75" width="8.5" height="270.35" fill="#c3c3c3" stroke="#7c7c7c" stroke-width="0.8"/>
<rect x="892.75" y="558.25" width="8.5" height="272.85" fill="#616161" stroke="#484848" stroke-width="0.8"/>
<rect x="901.45" y="572" width="8.5" height="259.1" fill="#242424" stroke="#202020" stroke-width="0.8"/>
<path d="M589.65 648V655.75M588.35 648h2.6M588.35 655.75h2.6M646.15 595.5V612M644.85 595.5h2.6M644.85 612h2.6M702.15 540V548.25M700.85 540h2.6M700.85 548.25h2.6M758.4 545.5V553M757.1 545.5h2.6M757.1 553h2.6M814.65 540V548M813.35 540h2.6M813.35 548h2.6M870.9 525V548.75M869.6 525h2.6M869.6 548.75h2.6" stroke="#000" stroke-opacity="0.5" stroke-width="0.8" fill="none"/>
<path d="M598.35 644.5V671.25M597.05 644.5h2.6M597.05 671.25h2.6M607.05 650.5V657M605.75 650.5h2.6M605.75 657h2.6M615.75 640V659.5M614.45 640h2.6M614.45 659.5h2.6M624.45 639.25V667.5M623.15 639.25h2.6M623.15 667.5h2.6M654.85 596.5V612M653.55 596.5h2.6M653.55 612h2.6M663.55 602V615M662.25 602h2.6M662.25 615h2.6M672.25 636.75V647.5M670.95 636.75h2.6M670.95 647.5h2.6M680.95 635.5V639M679.65 635.5h2.6M679.65 639h2.6M710.85 591V593.5M709.55 591h2.6M709.55 593.5h2.6M719.55 582.5V593M718.25 582.5h2.6M718.25 593h2.6M728.25 553.75V592M726.95 553.75h2.6M726.95 592h2.6M736.95 560V593.75M735.65 560h2.6M735.65 593.75h2.6M767.1 563.25V580.5M765.8 563.25h2.6M765.8 580.5h2.6M775.8 549.25V556.75M774.5 549.25h2.6M774.5 556.75h2.6M784.5 548.75V550.75M783.2 548.75h2.6M783.2 550.75h2.6M793.2 510.5V576M791.9 510.5h2.6M791.9 576h2.6M823.35 563.5V565.5M822.05 563.5h2.6M822.05 565.5h2.6M832.05 552V557.5M830.75 552h2.6M830.75 557.5h2.6M840.75 550.5V554.5M839.45 550.5h2.6M839.45 554.5h2.6M849.45 553.5V558M848.15 553.5h2.6M848.15 558h2.6M879.6 545.5V551.25M878.3 545.5h2.6M878.3 551.25h2.6M888.3 554.5V567M887 554.5h2.6M887 567h2.6M897 550V566.25M895.7 550h2.6M895.7 566.25h2.6M905.7 564.25V579.5M904.4 564.25h2.6M904.4 579.5h2.6" stroke="#000" stroke-opacity="0.3" stroke-width="0.8" fill="none"/>
<path d="M671.75 618.65v5.2M669.7 619.95l4.1 2.6M669.7 622.55l4.1 -2.6M680 616.4v5.2M677.95 617.7l4.1 2.6M677.95 620.3l4.1 -2.6M711.25 573.65v5.2M709.2 574.95l4.1 2.6M709.2 577.55l4.1 -2.6M718.25 564.9v5.2M716.2 566.2l4.1 2.6M716.2 568.8l4.1 -2.6M906 549.15v5.2M903.95 550.45l4.1 2.6M903.95 553.05l4.1 -2.6" stroke="#333" stroke-width="1.2" fill="none"/>
<circle cx="671.75" cy="621.25" r="1.15" fill="#333"/>
<circle cx="680" cy="619" r="1.15" fill="#333"/>
<circle cx="711.25" cy="576.25" r="1.15" fill="#333"/>
<circle cx="718.25" cy="567.5" r="1.15" fill="#333"/>
<circle cx="906" cy="551.75" r="1.15" fill="#333"/>
<text transform="translate(606.75 856.8) scale(0.8 1)" font-size="17.6" text-anchor="middle" fill="#1a1a1a" stroke="#1a1a1a" stroke-width="0.3">0</text>
<text transform="translate(663.25 856.8) scale(0.8 1)" font-size="17.6" text-anchor="middle" fill="#1a1a1a" stroke="#1a1a1a" stroke-width="0.3">4</text>
<text transform="translate(719.25 856.8) scale(0.8 1)" font-size="17.6" text-anchor="middle" fill="#1a1a1a" stroke="#1a1a1a" stroke-width="0.3">8</text>
<text transform="translate(775.5 856.8) scale(0.8 1)" font-size="17.6" text-anchor="middle" fill="#1a1a1a" stroke="#1a1a1a" stroke-width="0.3">16</text>
<text transform="translate(831.75 856.8) scale(0.8 1)" font-size="17.6" text-anchor="middle" fill="#1a1a1a" stroke="#1a1a1a" stroke-width="0.3">20</text>
<text transform="translate(888 856.8) scale(0.8 1)" font-size="17.6" text-anchor="middle" fill="#1a1a1a" stroke="#1a1a1a" stroke-width="0.3">24</text>
<text transform="translate(748.1 879) scale(0.83 1)" font-size="17" text-anchor="middle" font-weight="bold" stroke="#1a1a1a" stroke-width="0.35" fill="#1a1a1a">Time (h)</text>
<text transform="translate(542.9 663) rotate(-90) scale(1.34 1)" font-size="12.9" text-anchor="middle" font-weight="bold" stroke="#1a1a1a" stroke-width="0.35" fill="#1a1a1a">Log CFU/mL</text>
<text transform="translate(534 480) scale(0.84 1)" font-size="15.6" font-weight="bold" stroke="#1a1a1a" stroke-width="0.35" fill="#1a1a1a">D</text>
<text transform="translate(774.9 482.3) scale(0.95 1)" font-size="15.3" text-anchor="middle" font-weight="bold" stroke="#1a1a1a" stroke-width="0.35" fill="#1a1a1a" xml:space="preserve"><tspan font-style="italic">S. aureus</tspan> ATCC 29213</text>
<rect x="926.5" y="651" width="4.7" height="5.9" fill="#f5f5f5" stroke="#5a5a5a" stroke-width="0.9"/>
<text transform="translate(933.9 657.7) scale(0.89 1)" font-size="11.5" fill="#1a1a1a" stroke="#1a1a1a" stroke-width="0.2">Control</text>
<rect x="926.5" y="668.6" width="4.7" height="5.9" fill="#848484" stroke="#555" stroke-width="0.9"/>
<text transform="translate(933.9 675.3) scale(0.89 1)" font-size="11.5" fill="#1a1a1a" stroke="#1a1a1a" stroke-width="0.2">AgNPs–REE 1 MIC</text>
<rect x="926.5" y="686.2" width="4.7" height="5.9" fill="#c3c3c3" stroke="#777" stroke-width="0.9"/>
<text transform="translate(933.9 692.9) scale(0.89 1)" font-size="11.5" fill="#1a1a1a" stroke="#1a1a1a" stroke-width="0.2">AgNPs–REE 2 MIC</text>
<rect x="926.5" y="703.8" width="4.7" height="5.9" fill="#616161" stroke="#444" stroke-width="0.9"/>
<text transform="translate(933.9 710.5) scale(0.89 1)" font-size="11.5" fill="#1a1a1a" stroke="#1a1a1a" stroke-width="0.2">AgNPs–REE 4 MIC</text>
<rect x="926.5" y="721.4" width="4.7" height="5.9" fill="#242424" stroke="#1c1c1c" stroke-width="0.9"/>
<text transform="translate(933.9 728.1) scale(0.89 1)" font-size="11.5" fill="#1a1a1a" stroke="#1a1a1a" stroke-width="0.2">AgNPs–REE 8 MIC</text>
</g>
</svg>
</body>
</html>
